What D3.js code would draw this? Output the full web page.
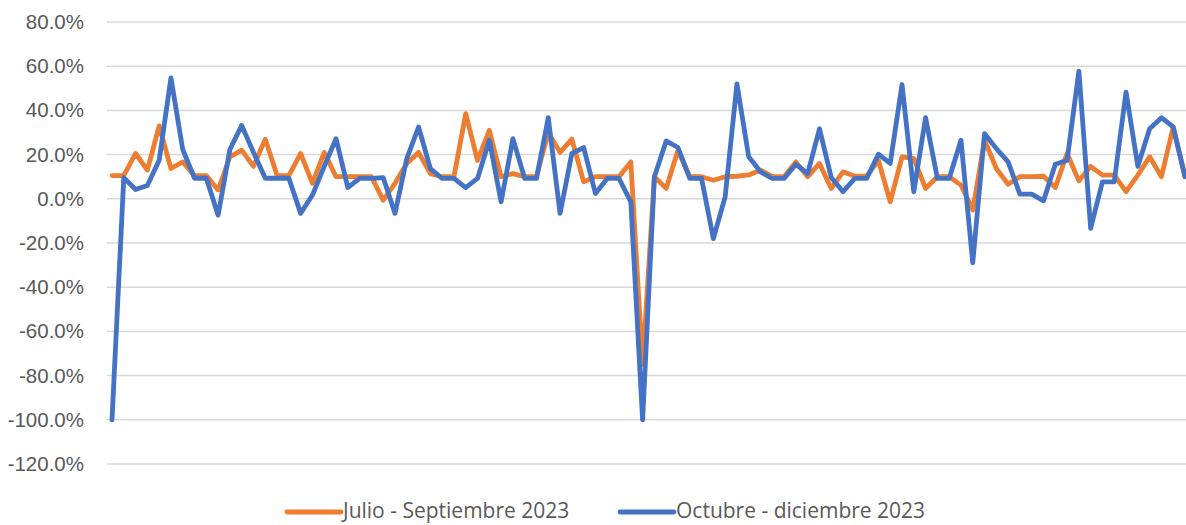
<!DOCTYPE html>
<html>
<head>
<meta charset="utf-8">
<script src="https://cdn.jsdelivr.net/npm/d3@7"></script>
<style>
  body { margin: 0; background: #fff; }
  svg { display: block; font-family: "Open Sans", "Liberation Sans", sans-serif; }
  .grid line { stroke: #d9d9d9; stroke-width: 1.5px; }
  .yaxis text { fill: #595959; font-size: 20.5px; }
  .legend text { fill: #595959; font-size: 21px; }
</style>
</head>
<body>
<svg id="chart" width="1186" height="525"></svg>
<script>
// daily variation, %
var julioSeptiembre = [
  10.5, 10.5, 20.5, 13, 33, 13.7, 16.7, 10.5, 10.5, 4,
  19, 22, 14.7, 27, 10.5, 10.5, 20.5, 7, 21, 10,
  10, 10, 10, -0.6, 7, 16, 21, 11.4, 10, 10,
  38.5, 17.4, 31, 10, 11.4, 10, 10, 30, 21, 27,
  7.7, 10, 10, 10, 16.7, -75, 10, 4.7, 22, 10,
  10, 8.4, 10, 10.2, 10.8, 13, 10, 10, 16.7, 10,
  16, 4.7, 12.2, 10.2, 10.2, 17.4, -1.4, 19, 18.2, 4.7,
  10, 10, 6.2, -5.1, 26.5, 13.7, 6.6, 10, 10, 10.2,
  5.1, 20.5, 8.1, 14.7, 10.7, 10.7, 3.2, 10.7, 19, 10,
  32.5, 10
];
var octubreDiciembre = [
  -100, 9.6, 4.2, 6, 17.4, 54.7, 22.3, 9.3, 9.3, -7.4,
  22.3, 33.2, 21, 9.3, 9.3, 9.3, -6.6, 1.7, 14.7, 27.2,
  5.1, 9.2, 9.2, 9.6, -6.6, 18.2, 32.5, 13.7, 9.2, 9.2,
  5.1, 9.2, 26.5, -1.4, 27.2, 9.2, 9.2, 36.7, -6.6, 20.5,
  23.2, 2.4, 9.2, 9.2, -1.4, -100, 10, 26.2, 23.2, 9.2,
  9.2, -18, 0.9, 52, 19, 12.2, 9.2, 9.2, 15.6, 11.4,
  31.7, 9.6, 3.2, 9.2, 9.2, 20.2, 16, 51.7, 3.2, 36.7,
  9.2, 9.2, 26.5, -29, 29.5, 22.7, 16.7, 2.1, 2.1, -0.9,
  15.6, 17.4, 57.8, -13.4, 7.7, 7.7, 48.3, 14.7, 31.7, 36.7,
  32.5, 10
];
var yTicks = [80, 60, 40, 20, 0, -20, -40, -60, -80, -100, -120];
var seriesNames = ["Julio - Septiembre 2023", "Octubre - diciembre 2023"];
var seriesColors = ["#ED7D31", "#4472C4"];

var svg = d3.select("#chart");

var x = d3.scaleLinear().domain([0, julioSeptiembre.length - 1]).range([112, 1185]);
var y = d3.scaleLinear().domain([-120, 80]).range([464, 22]);

// gridlines
svg.append("g").attr("class", "grid")
  .selectAll("line").data(yTicks).enter().append("line")
    .attr("x1", 107).attr("x2", 1186)
    .attr("y1", function(d) { return y(d); })
    .attr("y2", function(d) { return y(d); });

// y axis labels
var yAxis = d3.axisLeft(y).tickValues(yTicks)
  .tickSize(0).tickPadding(0)
  .tickFormat(function(d) { return d.toFixed(1) + "%"; });
svg.append("g").attr("class", "yaxis")
  .attr("transform", "translate(84,0)")
  .call(yAxis)
  .call(function(g) { g.select(".domain").remove(); })
  .selectAll("text").attr("font-size", null).attr("font-family", null);

var line = d3.line()
  .x(function(d, i) { return x(i); })
  .y(function(d) { return y(d); });

[julioSeptiembre, octubreDiciembre].forEach(function(s, k) {
  svg.append("path")
    .datum(s)
    .attr("d", line)
    .attr("fill", "none")
    .attr("stroke", seriesColors[k])
    .attr("stroke-width", 4.8)
    .attr("stroke-linejoin", "round")
    .attr("stroke-linecap", "round");
});

// legend
var legendX = [287, 620];
var lg = svg.append("g").attr("class", "legend");
seriesNames.forEach(function(name, k) {
  lg.append("line")
    .attr("x1", legendX[k]).attr("x2", legendX[k] + 54)
    .attr("y1", 512).attr("y2", 512)
    .attr("stroke", seriesColors[k])
    .attr("stroke-width", 4.8)
    .attr("stroke-linecap", "round");
  lg.append("text")
    .attr("x", legendX[k] + 56)
    .attr("y", 518)
    .text(name);
});
</script>
</body>
</html>
